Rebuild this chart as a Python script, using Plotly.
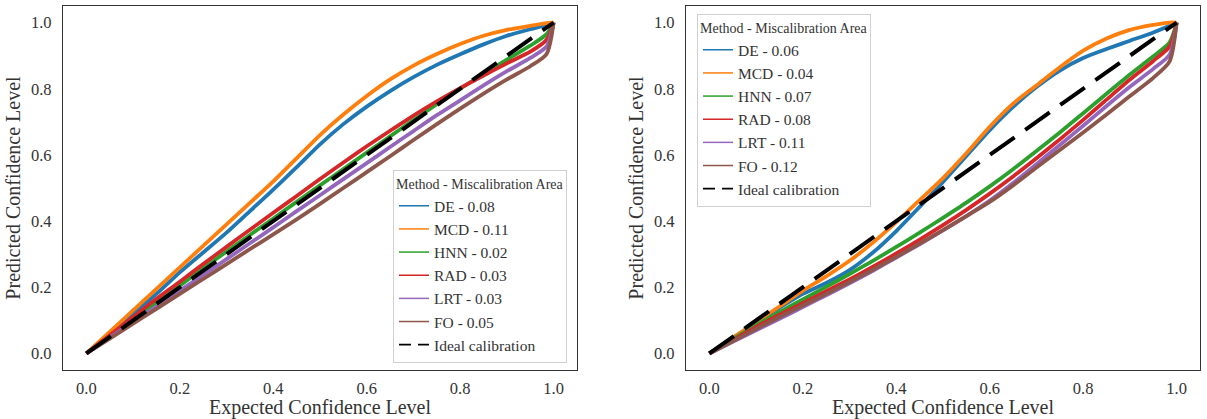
import plotly.graph_objects as go

# Expected confidence levels (shared x grid)
expected = [0, 0.05, 0.1, 0.15, 0.2, 0.25, 0.3, 0.35, 0.4, 0.45, 0.5, 0.55,
            0.6, 0.65, 0.7, 0.75, 0.8, 0.85, 0.9, 0.95, 0.985, 1.0]

methods = ["DE", "MCD", "HNN", "RAD", "LRT", "FO"]
colors = ["#1f77b4", "#ff7f0e", "#2ca02c", "#d62728", "#9467bd", "#8c564b"]

# Left panel
areas_left = ["0.08", "0.11", "0.02", "0.03", "0.03", "0.05"]
de_left = [0, 0.06, 0.12, 0.18, 0.245, 0.305, 0.365, 0.43, 0.495, 0.563, 0.632, 0.693,
           0.746, 0.793, 0.835, 0.872, 0.904, 0.934, 0.96, 0.98, 0.993, 1.0]
mcd_left = [0, 0.065, 0.13, 0.195, 0.26, 0.325, 0.39, 0.455, 0.52, 0.59, 0.66, 0.722,
            0.778, 0.828, 0.87, 0.905, 0.935, 0.96, 0.978, 0.99, 0.998, 1.0]
hnn_left = [0, 0.052, 0.103, 0.155, 0.205, 0.257, 0.308, 0.358, 0.408, 0.458, 0.508, 0.557,
            0.607, 0.656, 0.705, 0.753, 0.8, 0.845, 0.888, 0.93, 0.965, 1.0]
rad_left = [0, 0.055, 0.11, 0.165, 0.217, 0.27, 0.322, 0.374, 0.425, 0.476, 0.527, 0.577,
            0.626, 0.673, 0.719, 0.762, 0.802, 0.84, 0.877, 0.912, 0.948, 1.0]
lrt_left = [0, 0.048, 0.095, 0.142, 0.19, 0.237, 0.285, 0.333, 0.381, 0.43, 0.478, 0.527,
            0.575, 0.624, 0.672, 0.72, 0.765, 0.81, 0.853, 0.893, 0.928, 1.0]
fo_left = [0, 0.045, 0.09, 0.135, 0.18, 0.225, 0.27, 0.315, 0.36, 0.405, 0.452, 0.5,
           0.548, 0.596, 0.645, 0.693, 0.74, 0.785, 0.828, 0.868, 0.905, 1.0]

# Right panel
areas_right = ["0.06", "0.04", "0.07", "0.08", "0.11", "0.12"]
de_right = [0, 0.047, 0.093, 0.138, 0.18, 0.213, 0.252, 0.305, 0.37, 0.443, 0.518, 0.597,
            0.675, 0.745, 0.805, 0.855, 0.893, 0.92, 0.945, 0.97, 0.99, 1.0]
mcd_right = [0, 0.047, 0.095, 0.142, 0.19, 0.233, 0.28, 0.335, 0.397, 0.463, 0.53, 0.605,
             0.685, 0.755, 0.81, 0.865, 0.915, 0.952, 0.978, 0.993, 1.0, 1.0]
hnn_right = [0, 0.043, 0.085, 0.125, 0.163, 0.201, 0.24, 0.28, 0.322, 0.365, 0.41, 0.456,
             0.505, 0.557, 0.612, 0.668, 0.726, 0.785, 0.843, 0.898, 0.94, 1.0]
rad_right = [0, 0.04, 0.08, 0.117, 0.152, 0.188, 0.224, 0.262, 0.302, 0.344, 0.388, 0.434,
             0.483, 0.535, 0.59, 0.647, 0.706, 0.767, 0.828, 0.884, 0.928, 1.0]
lrt_right = [0, 0.035, 0.07, 0.105, 0.14, 0.176, 0.212, 0.25, 0.29, 0.33, 0.372, 0.415,
             0.462, 0.515, 0.572, 0.63, 0.688, 0.748, 0.806, 0.86, 0.903, 1.0]
fo_right = [0, 0.037, 0.074, 0.11, 0.145, 0.18, 0.216, 0.253, 0.292, 0.332, 0.373, 0.415,
            0.458, 0.508, 0.562, 0.615, 0.668, 0.722, 0.778, 0.833, 0.883, 1.0]

ideal = [0, 1]
tick_vals = [0, 0.2, 0.4, 0.6, 0.8, 1.0]
tick_text = ["0.0", "0.2", "0.4", "0.6", "0.8", "1.0"]

FONT = "Liberation Serif, serif"

left_series = [de_left, mcd_left, hnn_left, rad_left, lrt_left, fo_left]
right_series = [de_right, mcd_right, hnn_right, rad_right, lrt_right, fo_right]

fig = go.Figure()

for series, areas, xa, ya, leg in [
        (left_series, areas_left, "x", "y", "legend"),
        (right_series, areas_right, "x2", "y2", "legend2")]:
    for name, col, ys in zip(methods, colors, series):
        fig.add_trace(go.Scatter(x=expected, y=ys, mode="lines",
                                 line=dict(color=col, width=3.8, shape="spline",
                                           smoothing=0.7),
                                 xaxis=xa, yaxis=ya, showlegend=False,
                                 hoverinfo="skip"))
    fig.add_trace(go.Scatter(x=ideal, y=ideal, mode="lines",
                             line=dict(color="black", width=4, dash="30px,13px"),
                             xaxis=xa, yaxis=ya, showlegend=False, hoverinfo="skip"))
    # legend entries (thin handles like the reference)
    for name, col, area in zip(methods, colors, areas):
        fig.add_trace(go.Scatter(x=[None], y=[None], mode="lines",
                                 line=dict(color=col, width=1.5),
                                 name=f"{name} - {area}", legend=leg,
                                 xaxis=xa, yaxis=ya))
    fig.add_trace(go.Scatter(x=[None], y=[None], mode="lines",
                             line=dict(color="black", width=1.8, dash="12px,7px"),
                             name="Ideal calibration", legend=leg,
                             xaxis=xa, yaxis=ya))

W, H = 1207, 419
axis_common = dict(range=[-0.05, 1.05], tickvals=tick_vals, ticktext=tick_text,
                   showgrid=False, zeroline=False, showline=True, mirror=True,
                   linecolor="#333333", linewidth=1.4, ticks="",
                   tickfont=dict(family=FONT, size=16.5, color="#333"),
                   title_font=dict(family=FONT, size=20, color="#333"))

legend_common = dict(bgcolor="white", bordercolor="#d0d0d0", borderwidth=1,
                     font=dict(family=FONT, size=15.5, color="#333"),
                     title=dict(text="Method - Miscalibration Area",
                                font=dict(family=FONT, size=14, color="#333")),
                     tracegroupgap=0, itemwidth=30)

fig.update_layout(
    width=W, height=H, margin=dict(l=0, r=0, t=0, b=0),
    paper_bgcolor="white", plot_bgcolor="white",
    xaxis=dict(domain=[63 / W, 577 / W], anchor="y",
               title=dict(text="Expected Confidence Level", standoff=2),
               ticklabelstandoff=3, **axis_common),
    yaxis=dict(domain=[(H - 370) / H, (H - 6) / H], anchor="x",
               title=dict(text="Predicted Confidence Level", standoff=4),
               ticklabelstandoff=7, **axis_common),
    xaxis2=dict(domain=[686 / W, 1200 / W], anchor="y2",
                title=dict(text="Expected Confidence Level", standoff=2),
                ticklabelstandoff=3, **axis_common),
    yaxis2=dict(domain=[(H - 370) / H, (H - 6) / H], anchor="x2",
                title=dict(text="Predicted Confidence Level", standoff=4),
                ticklabelstandoff=7, **axis_common),
    legend=dict(x=567 / W, y=(H - 363) / H, xanchor="right", yanchor="bottom",
                **legend_common),
    legend2=dict(x=697 / W, y=(H - 14) / H, xanchor="left", yanchor="top",
                 **legend_common),
)

fig.write_html("out.html")
